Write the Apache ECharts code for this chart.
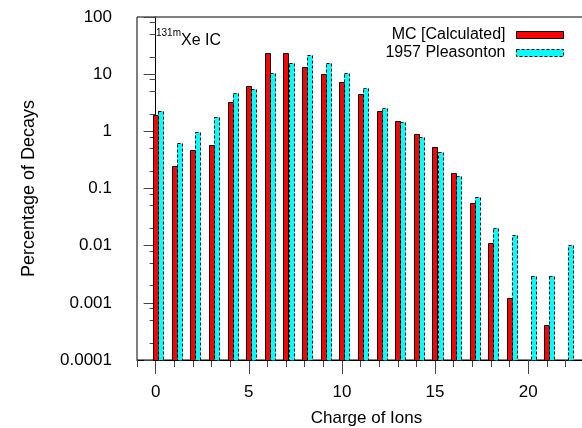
<!DOCTYPE html>
<html>
<head>
<meta charset="utf-8">
<script src="https://cdn.jsdelivr.net/npm/echarts@6/dist/echarts.min.js"></script>
<style>html,body{margin:0;padding:0;background:#fff}#c{width:582px;height:428px}</style>
</head>
<body>
<div id="c"></div>
<script>
// ---- data ----
var charges = [0,1,2,3,4,5,6,7,8,9,10,11,12,13,14,15,16,17,18,19,20,21,22];
var mcCalculated = [1.94,0.25,0.48,0.58,3.27,6.1,23.8,23.8,13.4,10.1,7.3,4.5,2.3,1.54,0.89,0.53,0.19,0.055,0.011,0.00121,null,0.00041,null];
var pleasonton1957 = [2.27,0.62,0.98,1.81,4.7,5.4,10.6,15.9,21.4,15.5,10.5,5.8,2.57,1.44,0.81,0.44,0.166,0.072,0.0202,0.0155,0.0030,0.0030,0.0101];
var yTickValues = [0.0001,0.001,0.01,0.1,1,10,100];
var yTickLabels = ['0.0001','0.001','0.01','0.1','1','10','100'];
var yMinorValues = [];
yTickValues.slice(0,-1).forEach(function(d){ [2,5,8].forEach(function(m){ yMinorValues.push(+(d*m).toPrecision(3)); }); });
var xMajorValues = [0,5,10,15,20];
var xMinorValues = [];
for (var i = -1; i <= 22; i++) xMinorValues.push(i);
var seriesNames = ['MC [Calculated]','1957 Pleasonton'];

var Y_MIN = 0.0001, Y_MAX = 100;
var BAR_FRAC = 0.27;
var FONT = '"Liberation Sans", Arial, sans-serif';

function pairs(vals){ return charges.map(function(c,i){ return [c, vals[i]]; }); }

function makeRender(offset, style){
  return function(params, api){
    var x = api.value(0), v = api.value(1);
    if (v == null || isNaN(v)) return null;
    var top = api.coord([x, v]);
    var base = api.coord([x, Y_MIN]);
    var unit = api.coord([x + 1, v])[0] - top[0];
    var w = unit * BAR_FRAC;
    var x0 = Math.round(top[0] + offset * w) + 0.5;
    var ww = Math.round(w);
    return {
      type: 'rect',
      shape: { x: x0, y: Math.round(top[1]) + 0.5, width: ww, height: Math.round(base[1]) - Math.round(top[1]) },
      style: style
    };
  };
}

var chart = echarts.init(document.getElementById('c'), null, {renderer: 'canvas'});
chart.setOption({
  animation: false,
  textStyle: { fontFamily: FONT },
  grid: { left: 137, right: -2, top: 17, bottom: 68, containLabel: false, outerBoundsMode: 'none', show: true, borderColor: '#000', borderWidth: 1, backgroundColor: 'transparent' },
  legend: {
    orient: 'vertical', align: 'right', right: 13, top: 22,
    itemWidth: 47, itemHeight: 7, itemGap: 2, selectedMode: false,
    textStyle: { fontSize: 16, color: '#000', fontFamily: FONT, lineHeight: 16, padding: [0, 6, 0, 0] },
    data: [
      { name: seriesNames[0], icon: 'rect', itemStyle: { color: '#ff0000', borderColor: '#000', borderWidth: 1 } },
      { name: seriesNames[1], icon: 'rect', itemStyle: { color: '#00ffff', borderColor: '#000', borderWidth: 1, borderType: [3, 2] } }
    ]
  },
  graphic: [
    { type: 'text', x: 156, y: 33, style: { text: '131m', font: '10px ' + FONT, fill: '#000', textAlign: 'left', textVerticalAlign: 'middle', verticalAlign: 'middle' } },
    { type: 'text', x: 181, y: 40.5, style: { text: 'Xe IC', font: '16px ' + FONT, fill: '#000', textAlign: 'left', textVerticalAlign: 'middle', verticalAlign: 'middle' } }
  ],
  xAxis: [
    {
      type: 'value', min: -1, max: 23, position: 'bottom',
      axisLine: { show: true, lineStyle: { color: '#000', width: 1 } },
      axisTick: { show: true, customValues: xMajorValues, length: 14, lineStyle: { color: '#444' } },
      axisLabel: { show: true, customValues: xMajorValues, fontSize: 17, color: '#000', margin: 24 },
      splitLine: { show: false },
      name: 'Charge of Ions', nameLocation: 'middle', nameGap: 50,
      nameTextStyle: { fontSize: 17, color: '#000', padding: [0, 0, 0, 12] }
    },
    {
      type: 'value', min: -1, max: 23, position: 'bottom',
      axisLine: { show: false },
      axisTick: { show: true, customValues: xMinorValues, length: 7, lineStyle: { color: '#444' } },
      axisLabel: { show: false },
      splitLine: { show: false }
    }
  ],
  yAxis: [
    {
      type: 'log', logBase: 10, min: Y_MIN, max: Y_MAX, position: 'left',
      axisLine: { show: true, lineStyle: { color: '#000', width: 1 } },
      axisTick: { show: true, customValues: yTickValues, length: 12, lineStyle: { color: '#444' } },
      axisLabel: {
        show: true, customValues: yTickValues, fontSize: 17, color: '#000', margin: 25,
        formatter: function(v){ return yTickLabels[Math.round(Math.log10(v)) + 4]; }
      },
      splitLine: { show: false },
      name: 'Percentage of Decays', nameLocation: 'middle', nameGap: 99,
      nameTextStyle: { fontSize: 18, color: '#000' }
    },
    {
      type: 'log', logBase: 10, min: Y_MIN, max: Y_MAX, position: 'left',
      axisLine: { show: false },
      axisTick: { show: true, customValues: yMinorValues, length: 6, lineStyle: { color: '#444' } },
      axisLabel: { show: false },
      splitLine: { show: false }
    }
  ],
  series: [
    {
      name: seriesNames[0], type: 'custom', xAxisIndex: 0, yAxisIndex: 0,
      itemStyle: { color: '#ff0000' },
      renderItem: makeRender(-0.5, { fill: '#ff0000', stroke: '#000', lineWidth: 1 }),
      encode: { x: 0, y: 1 },
      data: pairs(mcCalculated)
    },
    {
      name: seriesNames[1], type: 'custom', xAxisIndex: 0, yAxisIndex: 0,
      itemStyle: { color: '#00ffff' },
      renderItem: makeRender(0.5, { fill: '#00ffff', stroke: '#000', lineWidth: 1, lineDash: [3, 2] }),
      encode: { x: 0, y: 1 },
      data: pairs(pleasonton1957)
    }
  ]
});
</script>
</body>
</html>
